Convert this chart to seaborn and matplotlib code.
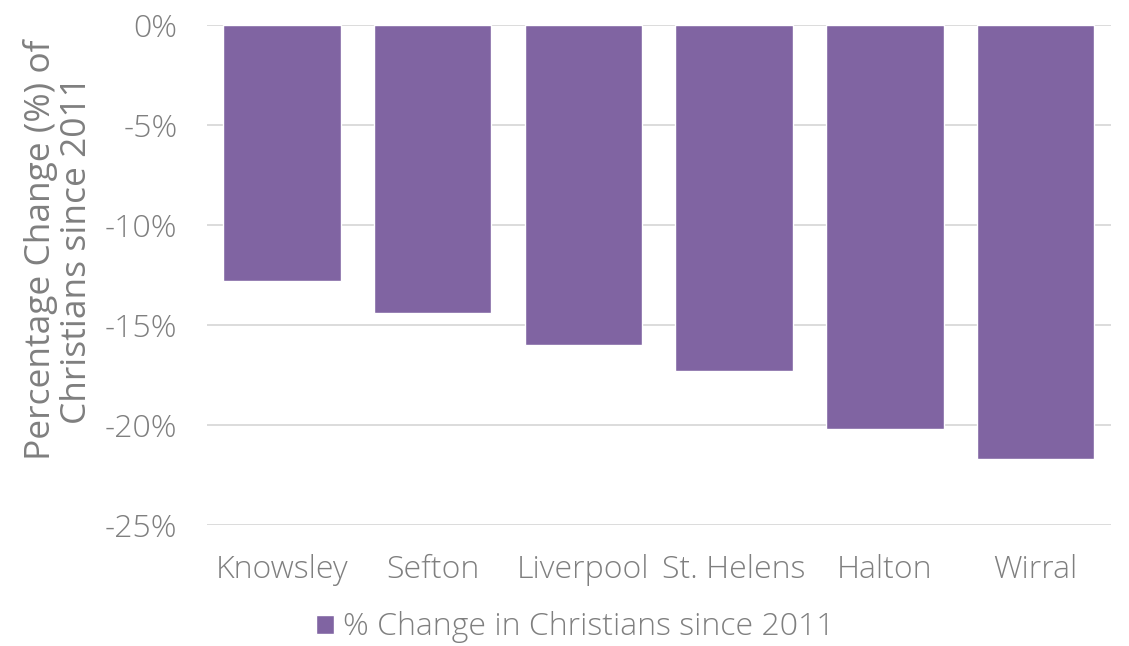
import numpy as np
import pandas as pd
import matplotlib.pyplot as plt
import seaborn as sns
from matplotlib.ticker import FuncFormatter

areas = ["Knowsley", "Sefton", "Liverpool", "St. Helens", "Halton", "Wirral"]
change = [-12.8, -14.4, -16.0, -17.3, -20.2, -21.7]
series = "% Change in Christians since 2011"

df = pd.DataFrame({"area": areas, "change": change})

sns.set_theme(style="white")
plt.rcParams["font.family"] = ["Open Sans", "DejaVu Sans"]
plt.rcParams["font.weight"] = "light"
grey = "#7f7f7f"

fig = plt.figure(figsize=(11.29, 6.46), dpi=100)
ax = fig.add_axes([0.183, 0.187, 0.801, 0.774])

sns.barplot(data=df, x="area", y="change", color="#8064a2", saturation=1,
            width=0.78, label=series, ax=ax, zorder=3)

ax.set_ylim(-25, 0)
ax.set_yticks(np.arange(-25, 1, 5))
ax.yaxis.set_major_formatter(FuncFormatter(lambda v, p: f"{v:.0f}%"))
ax.grid(axis="y", color="#d9d9d9", linewidth=1.3, zorder=0)
ax.set_axisbelow(True)
for s in ax.spines.values():
    s.set_visible(False)

ax.tick_params(axis="both", colors=grey, labelsize=23, length=0)
ax.tick_params(axis="y", pad=21)
ax.tick_params(axis="x", pad=21)
ax.set_xlabel("")
ax.set_ylabel("Percentage Change (%) of\nChristians since 2011", color=grey,
              fontsize=25.5, linespacing=1.05)
ax.yaxis.set_label_coords(-0.125, 0.55)

leg = ax.legend(loc="upper center", bbox_to_anchor=(0.408, -0.115), frameon=False,
                fontsize=23, handlelength=0.55, handleheight=0.55, handletextpad=0.3)
for t in leg.get_texts():
    t.set_color(grey)

fig.savefig("out.png", dpi=100)
